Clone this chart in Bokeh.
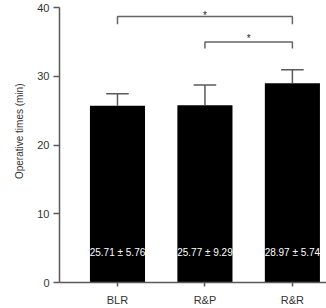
import numpy as np
from bokeh.plotting import figure
from bokeh.models import Title, FixedTicker
from bokeh.core.properties import value
from bokeh.embed import file_html
from bokeh.resources import INLINE

# ---- data ----
categories = ["BLR", "R&P", "R&R"]
means = [25.71, 25.77, 28.97]
error_up = [1.73, 2.96, 1.97]
bar_labels = ["25.71 \u00b1 5.76", "25.77 \u00b1 9.29", "28.97 \u00b1 5.74"]
y_ticks = [0, 10, 20, 30, 40]
# significance comparisons (index pairs), bracket heights, drop ends, mark heights
comp_pairs = [(0, 2), (1, 2)]
comp_heights = [38.7, 35.0]
comp_drops = [37.55, 34.05]
comp_mark_y = [39.3, 36.0]
comp_marks = ["*", "*"]
y_label = "Operative times (min)"

FONT = "Liberation Sans"
AXIS_COLOR = "#5a5a5a"
TEXT_COLOR = "#333333"

xs = np.arange(1, len(categories) + 1, dtype=float)
means_a = np.array(means)
upper = means_a + np.array(error_up)

p = figure(width=326, height=308, x_range=(0.337, 3.39), y_range=(0, 40),
           output_backend="svg", toolbar_location=None,
           min_border_left=59, min_border_right=0, min_border_top=7,
           min_border_bottom=23)
p.outline_line_color = None
p.xgrid.grid_line_color = None
p.ygrid.grid_line_color = None
p.background_fill_color = "white"
p.border_fill_color = "white"

# bars
p.vbar(x=xs, top=means_a, width=0.63, bottom=0, fill_color="black", line_color=None)

# error bars (upper only)
cap_half = 0.129
p.segment(x0=xs, y0=means_a, x1=xs, y1=upper, line_color=AXIS_COLOR, line_width=1.5)
p.segment(x0=xs - cap_half, y0=upper, x1=xs + cap_half, y1=upper,
          line_color=AXIS_COLOR, line_width=1.5)

# labels inside bars
p.text(x=xs, y=[4.3] * len(xs), text=bar_labels, text_color="white",
       text_font=value(FONT), text_font_size="10px", text_align="center",
       text_baseline="middle")

# significance brackets
b_xs, b_ys, m_x = [], [], []
for (i, j), h, d in zip(comp_pairs, comp_heights, comp_drops):
    b_xs.append([xs[i], xs[i], xs[j], xs[j]])
    b_ys.append([d, h, h, d])
    m_x.append((xs[i] + xs[j]) / 2)
p.multi_line(xs=b_xs, ys=b_ys, line_color="#666666", line_width=1.5)
p.text(x=m_x, y=comp_mark_y, text=comp_marks, text_color="#222222",
       text_font=value(FONT), text_font_size="10px", text_align="center",
       text_baseline="middle", y_offset=3)

# axes
p.yaxis.ticker = FixedTicker(ticks=y_ticks)
p.yaxis.minor_tick_line_color = None
p.yaxis.major_tick_in = 0
p.yaxis.major_tick_out = 6
p.yaxis.axis_line_color = AXIS_COLOR
p.yaxis.axis_line_width = 1.5
p.yaxis.major_tick_line_color = AXIS_COLOR
p.yaxis.major_tick_line_width = 1.5
p.yaxis.major_label_text_font = FONT
p.yaxis.major_label_text_font_size = "11px"
p.yaxis.major_label_text_color = TEXT_COLOR
p.yaxis.major_label_standoff = 4

p.xaxis.ticker = FixedTicker(ticks=list(xs))
p.xaxis.major_label_overrides = {float(x): c for x, c in zip(xs, categories)}
p.xaxis.minor_tick_line_color = None
p.xaxis.major_tick_in = 0
p.xaxis.major_tick_out = 4
p.xaxis.axis_line_color = AXIS_COLOR
p.xaxis.axis_line_width = 1.5
p.xaxis.major_tick_line_color = AXIS_COLOR
p.xaxis.major_tick_line_width = 1.5
p.xaxis.major_label_text_font = FONT
p.xaxis.major_label_text_font_size = "11px"
p.xaxis.major_label_text_color = TEXT_COLOR
p.xaxis.major_label_standoff = 7

p.add_layout(Title(text=y_label, align="right", offset=76, standoff=20,
                   text_font=FONT, text_font_size="10px", text_font_style="normal",
                   text_color=TEXT_COLOR), "left")

open("out.html", "w").write(file_html(p, INLINE))
